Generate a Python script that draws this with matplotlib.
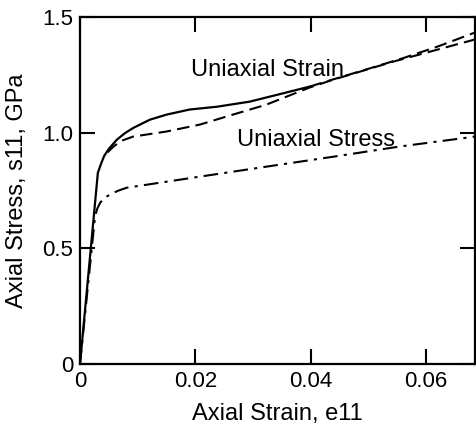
import matplotlib
matplotlib.use("Agg")
import matplotlib.pyplot as plt

# Uniaxial strain (solid, computed)
strain_solid = [0.0, 0.0031, 0.0036, 0.0042, 0.0050, 0.0064, 0.0078, 0.0092, 0.0121, 0.0150, 0.0190, 0.0237, 0.0294, 0.0352, 0.0398]
stress_solid = [0.0, 0.827, 0.862, 0.900, 0.930, 0.970, 0.998, 1.020, 1.056, 1.078, 1.100, 1.112, 1.134, 1.170, 1.199]
# Continuation of uniaxial strain (dashed)
strain_solid_ext = [0.0398, 0.0440, 0.0500, 0.0560, 0.0620, 0.0685]
stress_solid_ext = [1.199, 1.231, 1.276, 1.322, 1.372, 1.433]
# Uniaxial strain, second model (dashed)
strain_dash = [0.0048, 0.0058, 0.0072, 0.0092, 0.0150, 0.0208, 0.0265, 0.0323, 0.0398, 0.0439, 0.0543, 0.0685]
stress_dash = [0.915, 0.940, 0.965, 0.983, 1.005, 1.035, 1.078, 1.121, 1.195, 1.229, 1.307, 1.403]
# Uniaxial stress (dash-dot)
strain_dd = [0.0, 0.0026, 0.0030, 0.0035, 0.0042, 0.0052, 0.0065, 0.0081, 0.0150, 0.0208, 0.0323, 0.0439, 0.0554, 0.0685]
stress_dd = [0.0, 0.637, 0.672, 0.697, 0.718, 0.732, 0.748, 0.762, 0.788, 0.810, 0.853, 0.896, 0.940, 0.983]

xticks = [0, 0.02, 0.04, 0.06]
xticklabels = ["0", "0.02", "0.04", "0.06"]
yticks = [0, 0.5, 1.0, 1.5]
yticklabels = ["0", "0.5", "1.0", "1.5"]

plt.rcParams['font.family'] = ['Liberation Sans', 'DejaVu Sans']

fig = plt.figure(figsize=(4.77, 4.34), dpi=100)
ax = fig.add_axes([0.1677, 0.1613, 0.8281, 0.7995])

ax.plot(strain_solid, stress_solid, color='black', lw=1.6, solid_capstyle='round', solid_joinstyle='round')
ax.plot(strain_solid_ext, stress_solid_ext, color='black', lw=1.5, dashes=(6, 3))
ax.plot(strain_dash, stress_dash, color='black', lw=1.5, dashes=(6, 3))
ax.plot(strain_dd, stress_dd, color='black', lw=1.5, dashes=(7, 3, 1.5, 3))

ax.set_xlim(0, 0.0685)
ax.set_ylim(0, 1.5)
ax.set_xticks(xticks)
ax.set_xticklabels(xticklabels)
ax.set_yticks(yticks)
ax.set_yticklabels(yticklabels)
ax.tick_params(direction='in', length=11, width=1.5, labelsize=16, top=True, right=True, pad=5)
for s in ax.spines.values():
    s.set_linewidth(1.6)

ax.set_xlabel("Axial Strain, e11", fontsize=17, labelpad=8)
ax.set_ylabel("Axial Stress, s11, GPa", fontsize=17, labelpad=10)

ax.text(0.0192, 1.27, "Uniaxial Strain", fontsize=17, ha='left', va='center')
ax.text(0.0273, 0.97, "Uniaxial Stress", fontsize=17, ha='left', va='center')

fig.savefig("out.png", dpi=100)
